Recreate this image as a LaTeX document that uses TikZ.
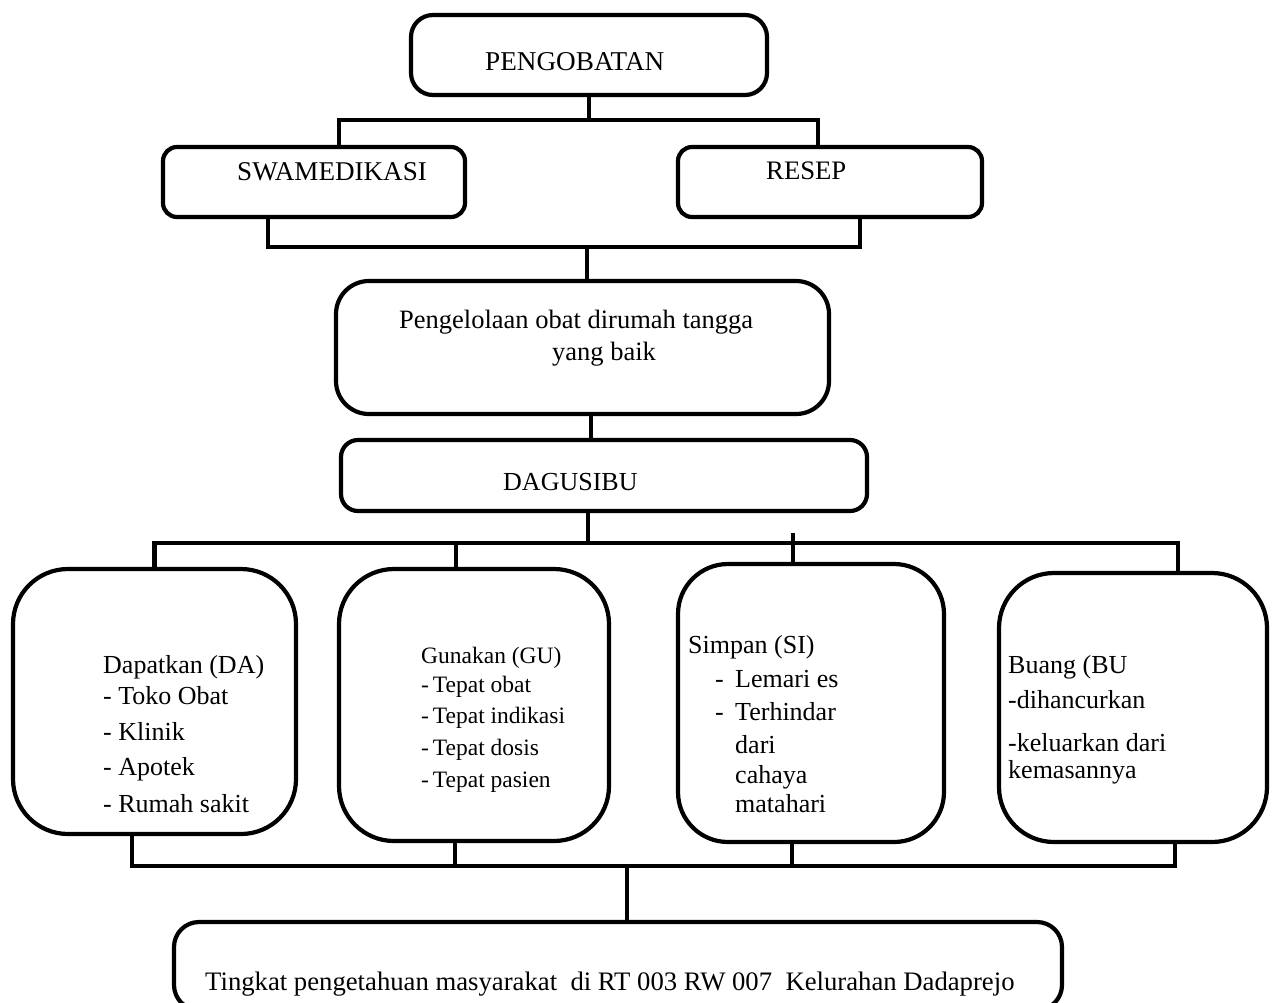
\documentclass[tikz,border=0pt]{standalone}
\usepackage{fontspec}
\setmainfont{Liberation Serif}
\usetikzlibrary{calc}
\tikzset{
  box/.style={draw, line width=4.2pt, rounded corners=#1, inner sep=0pt},
  conn/.style={line width=4.2pt, line cap=rect},
  lbl/.style={anchor=base west, inner sep=0pt, font=\fontsize{#1}{31pt}\selectfont},
  lbl/.default=26pt,
  lbls/.style={anchor=base west, inner sep=0pt, font=\fontsize{23.5pt}{28pt}\selectfont}
}
\begin{document}
\begin{tikzpicture}[x=1pt,y=-1pt]
\useasboundingbox (0,0) rectangle (1276,1002);
\fill[white] (0,0) rectangle (1276,1002);

% boxes
\node[box=22pt, minimum width=356pt, minimum height=80pt] (peng) at (589,55) {};
\node[box=14pt, minimum width=302pt, minimum height=70pt] (swa) at (314,182) {};
\node[box=14pt, minimum width=304pt, minimum height=70pt] (resep) at (830,182) {};
\node[box=33pt, minimum width=493pt, minimum height=133pt] (kelola) at (582.5,347.5) {};
\node[box=17pt, minimum width=526pt, minimum height=71pt] (dagu) at (604,475.5) {};
\node[box=55pt, minimum width=283pt, minimum height=265pt] (da) at (154.5,701.5) {};
\node[box=55pt, minimum width=270pt, minimum height=272pt] (gu) at (474,705) {};
\node[box=50pt, minimum width=266pt, minimum height=278pt] (si) at (811,703) {};
\node[box=55pt, minimum width=268pt, minimum height=269pt] (bu) at (1133,707.5) {};
\node[box=25pt, minimum width=888pt, minimum height=88pt] (ting) at (618,966) {};

% junctions
\coordinate (j1) at (589,120);
\coordinate (j2) at (587,247);
\coordinate (j4) at (588,543);
\coordinate (j5) at (627,866);

% connectors
\draw[conn] (peng.south) -- (j1);
\draw[conn] ([xshift=25pt]swa.north) |- (j1) -| ([xshift=-12pt]resep.north);
\draw[conn] ([xshift=-46pt]swa.south) |- (j2) -| ([xshift=30pt]resep.south);
\draw[conn] (j2) -- (j2 |- kelola.north);
\draw[conn] ([xshift=8.5pt]kelola.south) -- ([xshift=8.5pt]kelola.south |- dagu.north);
\draw[conn] ([xshift=-16pt]dagu.south) -- (j4);
\draw[conn] (da.north) |- (j4) -| ([xshift=45pt]bu.north);
\draw[conn] ([xshift=-18pt]gu.north) -- ([xshift=-18pt]gu.north |- j4);
\draw[conn] ([xshift=-18pt]si.north) -- ++(0,-27);
\draw[conn] ([xshift=-22.5pt]da.south) |- (j5) -| ([xshift=42pt]bu.south);
\draw[conn] ([xshift=-19pt]gu.south) -- ([xshift=-19pt]gu.south |- j5);
\draw[conn] ([xshift=-19pt]si.south) -- ([xshift=-19pt]si.south |- j5);
\draw[conn] (j5) -- (j5 |- ting.north);

% labels
\node[lbl=27.2pt] (tpeng) at (485,70) {PENGOBATAN};
\node[lbl=27.1pt] (tswa) at (237,180) {SWAMEDIKASI};
\node[lbl=26.7pt] (tres) at (766,179) {RESEP};
\node[lbl=26.5pt] (tk1) at (399,328) {Pengelolaan obat dirumah tangga};
\node[lbl=26.5pt] (tk2) at (552,360) {yang baik};
\node[lbl] (tdag) at (503,490) {DAGUSIBU};

\node[lbl] (da1) at (103,673) {Dapatkan (DA)};
\node[lbl] (da2) at (103,704) {- Toko Obat};
\node[lbl] (da3) at (103,740) {- Klinik};
\node[lbl] (da4) at (103,775) {- Apotek};
\node[lbl] (da5) at (103,812) {- Rumah sakit};

\node[lbls] (gu1) at (421,663) {Gunakan (GU)};
\node[lbls] (gu2) at (421,692) {-\,Tepat obat};
\node[lbls] (gu3) at (421,723) {-\,Tepat indikasi};
\node[lbls] (gu4) at (421,755) {-\,Tepat dosis};
\node[lbls] (gu5) at (421,787) {-\,Tepat pasien};

\node[lbl] (si1) at (688,653) {Simpan (SI)};
\node[lbl] (si2a) at (715,687) {-};
\node[lbl] (si2) at (735,687) {Lemari es};
\node[lbl] (si3a) at (715,720) {-};
\node[lbl] (si3) at (735,720) {Terhindar};
\node[lbl] (si4) at (735,753) {dari};
\node[lbl] (si5) at (735,783) {cahaya};
\node[lbl] (si6) at (735,812) {matahari};

\node[lbl] (bu1) at (1008,673) {Buang (BU};
\node[lbl] (bu2) at (1008,708) {-dihancurkan};
\node[lbl] (bu3) at (1008,751) {-keluarkan dari};
\node[lbl] (bu4) at (1008,778) {kemasannya};

\node[lbl=26.7pt] (tting) at (205,990) {Tingkat pengetahuan masyarakat\ \ di RT 003 RW 007\ \ Kelurahan Dadaprejo};
\end{tikzpicture}
\end{document}
